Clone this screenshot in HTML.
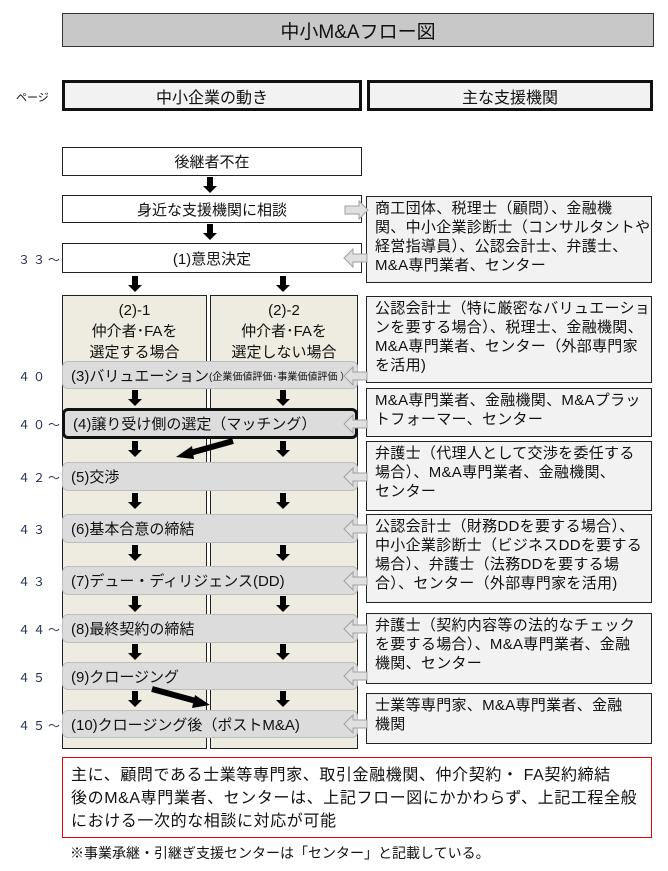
<!DOCTYPE html>
<html><head><meta charset="utf-8"><style>
body{margin:0;width:668px;height:871px;background:#fff;position:relative;overflow:hidden;font-family:"Liberation Sans","Noto Sans CJK JP",sans-serif;color:#111}
div{position:absolute;box-sizing:border-box}
.c{display:flex;align-items:center;justify-content:center;text-align:center}
.bar{left:62px;width:296px;background:#dcdcdc;border:1.5px solid #bdbdbd;border-radius:6px;font-size:15px;padding-left:8px;display:flex;align-items:center;white-space:nowrap}
.rb{left:366px;width:286px;background:#f2f2f2;border:1.5px solid #222;font-size:15px;letter-spacing:0.3px;line-height:19px;padding:2px 0 0 8px;white-space:nowrap;overflow:hidden}
.pg{left:18px;font-size:12px;color:#1f2a50;letter-spacing:3px}
.wb{left:62px;width:300px;background:#fff;border:1.5px solid #222;font-size:15px}
</style></head><body>
<div class="c" style="left:62px;top:13px;width:592px;height:34px;background:#c8c8c8;border:1.5px solid #333;font-size:19px">中小M&amp;Aフロー図</div>
<div style="left:16px;top:89px;font-size:11px">ページ</div>
<div class="c" style="left:62px;top:80px;width:300px;height:31px;background:#f2f2f2;border:3px solid #111;font-size:16px">中小企業の動き</div>
<div class="c" style="left:367px;top:80px;width:286px;height:31px;background:#f2f2f2;border:3px solid #111;font-size:16px">主な支援機関</div>

<div class="wb c" style="top:147px;height:29px">後継者不在</div>
<div class="wb c" style="top:195px;height:28px">身近な支援機関に相談</div>
<div class="wb c" style="top:243px;height:30px">(1)意思決定</div>
<div class="pg" style="top:251px">３３～</div>

<div style="left:62px;top:295px;width:145px;height:454px;background:#eeece1;border:1.5px solid #222"></div>
<div style="left:210px;top:295px;width:148px;height:454px;background:#eeece1;border:1.5px solid #222"></div>
<div class="c" style="left:62px;top:300px;width:145px;font-size:15px;line-height:21px">(2)-1<br>仲介者･FAを<br>選定する場合</div>
<div class="c" style="left:210px;top:300px;width:148px;font-size:15px;line-height:21px">(2)-2<br>仲介者･FAを<br>選定しない場合</div>

<div class="bar" style="top:361px;height:28px">(3)バリュエーション<span style="font-size:10px">(企業価値評価･事業価値評価 ）</span></div>
<div class="bar" style="top:408px;height:31px;border:3px solid #111">(4)譲り受け側の選定（マッチング）</div>
<div class="bar" style="top:462px;height:29px">(5)交渉</div>
<div class="bar" style="top:514px;height:29px">(6)基本合意の締結</div>
<div class="bar" style="top:566px;height:29px">(7)デュー・ディリジェンス(DD)</div>
<div class="bar" style="top:614px;height:29px">(8)最終契約の締結</div>
<div class="bar" style="top:662px;height:28px">(9)クロージング</div>
<div class="bar" style="top:710px;height:28px">(10)クロージング後（ポストM&amp;A)</div>

<div class="pg" style="top:368px">４０</div>
<div class="pg" style="top:416px">４０～</div>
<div class="pg" style="top:469px">４２～</div>
<div class="pg" style="top:521px">４３</div>
<div class="pg" style="top:573px">４３</div>
<div class="pg" style="top:621px">４４～</div>
<div class="pg" style="top:669px">４５</div>
<div class="pg" style="top:717px">４５～</div>

<div class="rb" style="top:196px;height:87px">商工団体、税理士（顧問）、金融機<br>関、中小企業診断士（コンサルタントや<br>経営指導員）、公認会計士、弁護士、<br>M&amp;A専門業者、センター</div>
<div class="rb" style="top:296px;height:87px">公認会計士（特に厳密なバリュエーショ<br>ンを要する場合）、税理士、金融機関、<br>M&amp;A専門業者、センター（外部専門家<br>を活用)</div>
<div class="rb" style="top:388px;height:49px">M&amp;A専門業者、金融機関、M&amp;Aプラッ<br>トフォーマー、センター</div>
<div class="rb" style="top:441px;height:70px">弁護士（代理人として交渉を委任する<br>場合）、M&amp;A専門業者、金融機関、<br>センター</div>
<div class="rb" style="top:514px;height:89px">公認会計士（財務DDを要する場合）、<br>中小企業診断士（ビジネスDDを要する<br>場合）、弁護士（法務DDを要する場<br>合）、センター（外部専門家を活用)</div>
<div class="rb" style="top:613px;height:71px">弁護士（契約内容等の法的なチェック<br>を要する場合）、M&amp;A専門業者、金融<br>機関、センター</div>
<div class="rb" style="top:693px;height:51px">士業等専門家、M&amp;A専門業者、金融<br>機関</div>

<div style="left:62px;top:757px;width:590px;height:81px;border:1.5px solid #e00;font-size:16px;letter-spacing:0.6px;line-height:23px;padding:6px 0 0 8px;white-space:nowrap;overflow:hidden">主に、顧問である士業等専門家、取引金融機関、仲介契約・ FA契約締結<br>後のM&amp;A専門業者、センターは、上記フロー図にかかわらず、上記工程全般<br>における一次的な相談に対応が可能</div>
<div style="left:70px;top:843px;font-size:14px">※事業承継・引継ぎ支援センターは「センター」と記載している。</div>

<svg width="668" height="871" style="position:absolute;left:0;top:0" xmlns="http://www.w3.org/2000/svg">
<defs>
<g id="d"><rect x="-3" y="0" width="6" height="10" fill="#000"/><polygon points="-7,9 7,9 0,16" fill="#000"/></g>
<g id="hl"><polygon points="0,0 9,-9 9,-4 23,-4 23,4 9,4 9,9" fill="#e0e0e0" stroke="#a0a0a0" stroke-width="1"/></g>
</defs>
<use href="#d" x="210" y="177"/>
<use href="#d" x="210" y="224"/>
<use href="#d" x="135" y="276"/>
<use href="#d" x="283" y="276"/>
<use href="#d" x="135" y="390"/><use href="#d" x="283" y="390"/>
<use href="#d" x="135" y="441"/><use href="#d" x="283" y="441"/>
<use href="#d" x="135" y="493"/><use href="#d" x="283" y="493"/>
<use href="#d" x="135" y="545"/><use href="#d" x="283" y="545"/>
<use href="#d" x="135" y="596"/><use href="#d" x="283" y="596"/>
<use href="#d" x="135" y="644"/><use href="#d" x="283" y="644"/>
<use href="#d" x="135" y="691"/><use href="#d" x="283" y="691"/>
<line x1="233" y1="441" x2="190" y2="453" stroke="#000" stroke-width="6"/>
<polygon points="176,457 192,446 194,459" fill="#000"/>
<line x1="152" y1="689" x2="196" y2="701" stroke="#000" stroke-width="6"/>
<polygon points="210,705 195,695 192,708" fill="#000"/>
<g transform="translate(368,210) scale(-1,1)"><use href="#hl"/></g>
<use href="#hl" x="344" y="258"/>
<use href="#hl" x="344" y="376"/>
<use href="#hl" x="344" y="424"/>
<use href="#hl" x="344" y="477"/>
<use href="#hl" x="344" y="529"/>
<use href="#hl" x="344" y="581"/>
<use href="#hl" x="344" y="629"/>
<use href="#hl" x="344" y="676"/>
<use href="#hl" x="344" y="724"/>
</svg>
</body></html>
